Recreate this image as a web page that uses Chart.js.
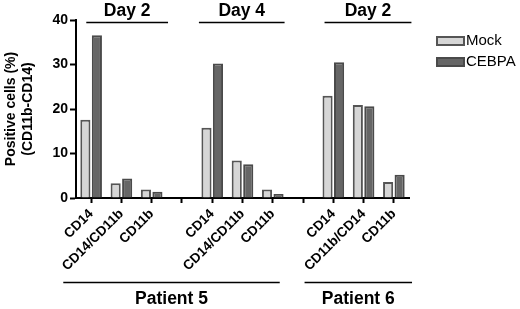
<!DOCTYPE html>
<html>
<head>
<meta charset="utf-8">
<script src="https://cdn.jsdelivr.net/npm/chart.js@4.4.1/dist/chart.umd.min.js"></script>
<style>
  html, body { margin: 0; padding: 0; background: #fff; }
  #wrap { width: 520px; height: 309px; position: relative; }
</style>
</head>
<body>
<div id="wrap"><canvas id="chart"></canvas></div>
<script>
// ---------------- data ----------------
// '' entries are the empty gap slots between the groups
const categories = ['CD14', 'CD14/CD11b', 'CD11b', '', 'CD14', 'CD14/CD11b', 'CD11b', '', 'CD14', 'CD11b/CD14', 'CD11b']
const mockValues = [17.6, 3.3, 1.9, null, 15.8, 8.4, 1.9, null, 23.0, 20.9, 3.6]
const cebpaValues = [36.6, 4.4, 1.4, null, 30.2, 7.6, 0.9, null, 30.5, 20.6, 5.2]
const yTicks = [0, 10, 20, 30, 40]
const dayLabels = ['Day 2', 'Day 4', 'Day 2']
const patientLabels = ['Patient 5', 'Patient 6']

const FONT = '"Liberation Sans", Arial, sans-serif'

// spans in category units for the header / footer brackets
const daySpans = [[-0.16, 2.54], [3.56, 6.39], [7.71, 10.58]]
const patientSpans = [[-0.92, 6.23], [7.05, 10.6]]

const annotations = {
  id: 'annotations',
  afterDraw(chart) {
    const ctx = chart.ctx
    const x = chart.scales.x
    ctx.save()
    ctx.strokeStyle = '#000'
    ctx.fillStyle = '#000'
    ctx.lineWidth = 1.5
    ctx.textAlign = 'center'
    ctx.textBaseline = 'middle'

    // day headers
    ctx.font = 'bold 17.5px ' + FONT
    daySpans.forEach((s, i) => {
      const a = x.getPixelForValue(s[0])
      const b = x.getPixelForValue(s[1])
      ctx.beginPath()
      ctx.moveTo(a, 22.5)
      ctx.lineTo(b, 22.5)
      ctx.stroke()
      ctx.fillText(dayLabels[i], (a + b) / 2, 11.5)
    })

    // patient footers
    patientSpans.forEach((s, i) => {
      const a = x.getPixelForValue(s[0])
      const b = x.getPixelForValue(s[1])
      ctx.beginPath()
      ctx.moveTo(a, 282.5)
      ctx.lineTo(b, 282.5)
      ctx.stroke()
      ctx.fillText(patientLabels[i], (a + b) / 2, 299.5)
    })

    // legend
    ctx.font = '15px ' + FONT
    ctx.textAlign = 'left'
    chart.data.datasets.forEach((ds, i) => {
      const top = 36 + i * 21
      ctx.fillStyle = ds.backgroundColor
      ctx.fillRect(436, top, 29, 10)
      ctx.strokeStyle = ds.borderColor
      ctx.lineWidth = 2
      ctx.strokeRect(437, top + 1, 27, 8)
      ctx.fillStyle = '#000'
      ctx.fillText(ds.label, 466, top + 5)
    })
    ctx.restore()
  },
}

const ctx = document.getElementById('chart')
new Chart(ctx, {
  type: 'bar',
  data: {
    labels: categories,
    datasets: [
      {
        label: 'Mock',
        data: mockValues,
        backgroundColor: '#d6d6d6',
        borderColor: '#555555',
        borderWidth: 2,
        categoryPercentage: 0.76,
        barPercentage: 0.88,
      },
      {
        label: 'CEBPA',
        data: cebpaValues,
        backgroundColor: '#666666',
        borderColor: '#4a4a4a',
        borderWidth: 2,
        categoryPercentage: 0.76,
        barPercentage: 0.88,
      },
    ],
  },
  options: {
    responsive: true,
    maintainAspectRatio: false,
    animation: false,
    layout: { padding: { top: 20, right: 111, bottom: 0, left: 0 } },
    scales: {
      x: {
        afterFit(scale) { scale.height = 111 },
        grid: { display: true, drawOnChartArea: false, drawTicks: true, tickLength: 5, tickWidth: 2, color: '#000', offset: false },
        border: { display: true, color: '#000', width: 2 },
        ticks: {
          color: '#000',
          font: { family: FONT, size: 13.5, weight: 'bold' },
          minRotation: 45,
          maxRotation: 45,
          autoSkip: false,
          padding: 3,
        },
      },
      y: {
        min: 0,
        max: 40,
        afterFit(scale) { scale.width = 76 },
        afterBuildTicks(scale) { scale.ticks = yTicks.map(v => ({ value: v })) },
        grid: { display: true, drawOnChartArea: false, drawTicks: true, tickLength: 6, tickWidth: 2, color: '#000' },
        border: { display: true, color: '#000', width: 2 },
        ticks: {
          color: '#000',
          font: { family: FONT, size: 14, weight: 'bold' },
          padding: 2,
        },
        title: {
          display: true,
          text: ['Positive cells (%)', '(CD11b-CD14)'],
          color: '#000',
          font: { family: FONT, size: 14, weight: 'bold', lineHeight: 1.2 },
          padding: { top: 3, bottom: 0 },
        },
      },
    },
    plugins: {
      legend: { display: false },
      tooltip: { enabled: false },
    },
  },
  plugins: [annotations],
})
</script>
</body>
</html>
